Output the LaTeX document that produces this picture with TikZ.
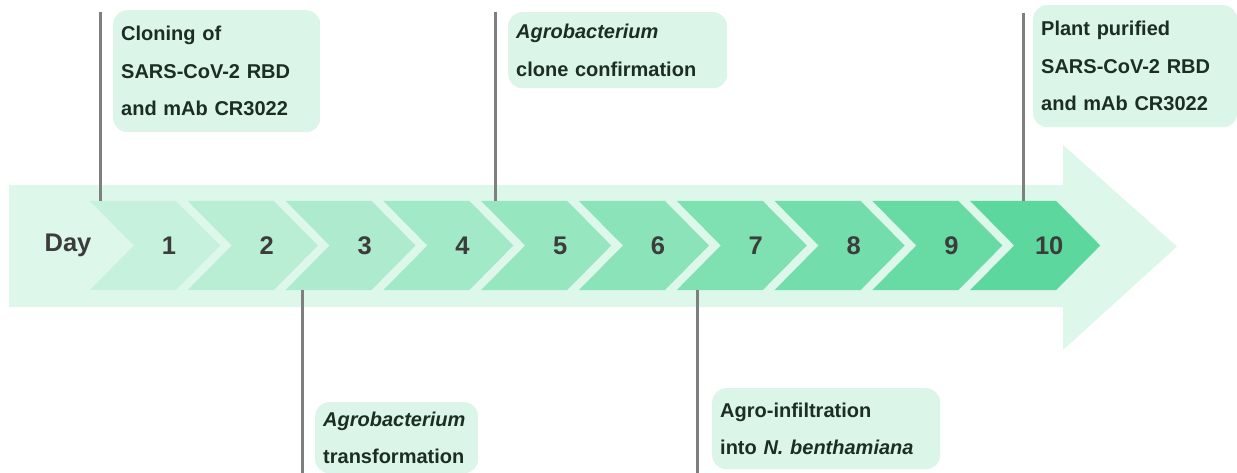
\documentclass[tikz,border=0pt]{standalone}
\usepackage{fontspec}
\setmainfont{Liberation Sans}
\definecolor{bgarrow}{HTML}{DDF7EB}
\definecolor{chevStart}{HTML}{C6F1DC}
\definecolor{chevEnd}{HTML}{5CD89E}
\definecolor{boxfill}{HTML}{DCF5E9}
\definecolor{boxtext}{HTML}{1C2E24}
\definecolor{numtext}{HTML}{3C3C3C}
\definecolor{linegray}{HTML}{7F7F7F}
\tikzset{
  infobox/.style={fill=boxfill, rounded corners=14pt, anchor=north west,
    font=\bfseries\fontsize{20}{37.5}\selectfont, text=boxtext, align=left,
    inner xsep=8pt, inner ysep=0pt},
  numlabel/.style={font=\bfseries\fontsize{25.5}{30}\selectfont, text=numtext, inner sep=0pt},
  tickline/.style={draw=linegray, line width=3pt}
}
\begin{document}
\begin{tikzpicture}[x=1pt,y=-1pt]
\useasboundingbox (0,0) rectangle (1237,473);
\clip (0,0) rectangle (1237,473);
% big background arrow
\fill[bgarrow] (9,185) -- (1063,185) -- (1063,145) -- (1177,246.5) -- (1063,350) -- (1063,307) -- (9,307) -- cycle;
% chevrons
\foreach \i in {1,...,10}{
  \pgfmathsetmacro\L{90+(\i-1)*97.8}
  \pgfmathtruncatemacro\p{100-(\i-1)*100/9}
  \fill[chevStart!\p!chevEnd] (\L,201) -- (\L+86,201) -- (\L+130,245.5) -- (\L+86,290) -- (\L,290) -- (\L+44,245.5) -- cycle;
  \node[numlabel] (n\i) at (\L+79,245.5) {\i};
}
\node[numlabel] (day) at (68,245.5) {Day};
% boxes
\node[infobox, minimum width=207pt, minimum height=122pt, text width=191pt] (b1) at (113,10)
  {Cloning of\\SARS-CoV-2 RBD\\and mAb CR3022};
\node[infobox, minimum width=219pt, minimum height=76pt, text width=203pt] (b2) at (508,12)
  {\textit{Agrobacterium}\\clone confirmation};
\node[infobox, minimum width=204pt, minimum height=122pt, text width=188pt] (b3) at (1033,5)
  {Plant purified\\SARS-CoV-2 RBD\\and mAb CR3022};
\node[infobox, minimum width=163pt, minimum height=71pt, text width=147pt] (b4) at (315,402)
  {\textit{Agrobacterium}\\transformation};
\node[infobox, minimum width=228pt, minimum height=81pt, text width=212pt] (b5) at (712,388)
  {Agro-infiltration\\into \textit{N. benthamiana}};
% tick lines
\coordinate (t1a) at (100,12);  \coordinate (t1b) at (100,201);
\coordinate (t2a) at (495,12);  \coordinate (t2b) at (495,201);
\coordinate (t3a) at (1023,13); \coordinate (t3b) at (1023,201);
\coordinate (t4a) at (302,290); \coordinate (t4b) at (302,480);
\coordinate (t5a) at (697,290); \coordinate (t5b) at (697,480);
\draw[tickline] (t1a) -- (t1b);
\draw[tickline] (t2a) -- (t2b);
\draw[tickline] (t3a) -- (t3b);
\draw[tickline] (t4a) -- (t4b);
\draw[tickline] (t5a) -- (t5b);
\end{tikzpicture}
\end{document}
